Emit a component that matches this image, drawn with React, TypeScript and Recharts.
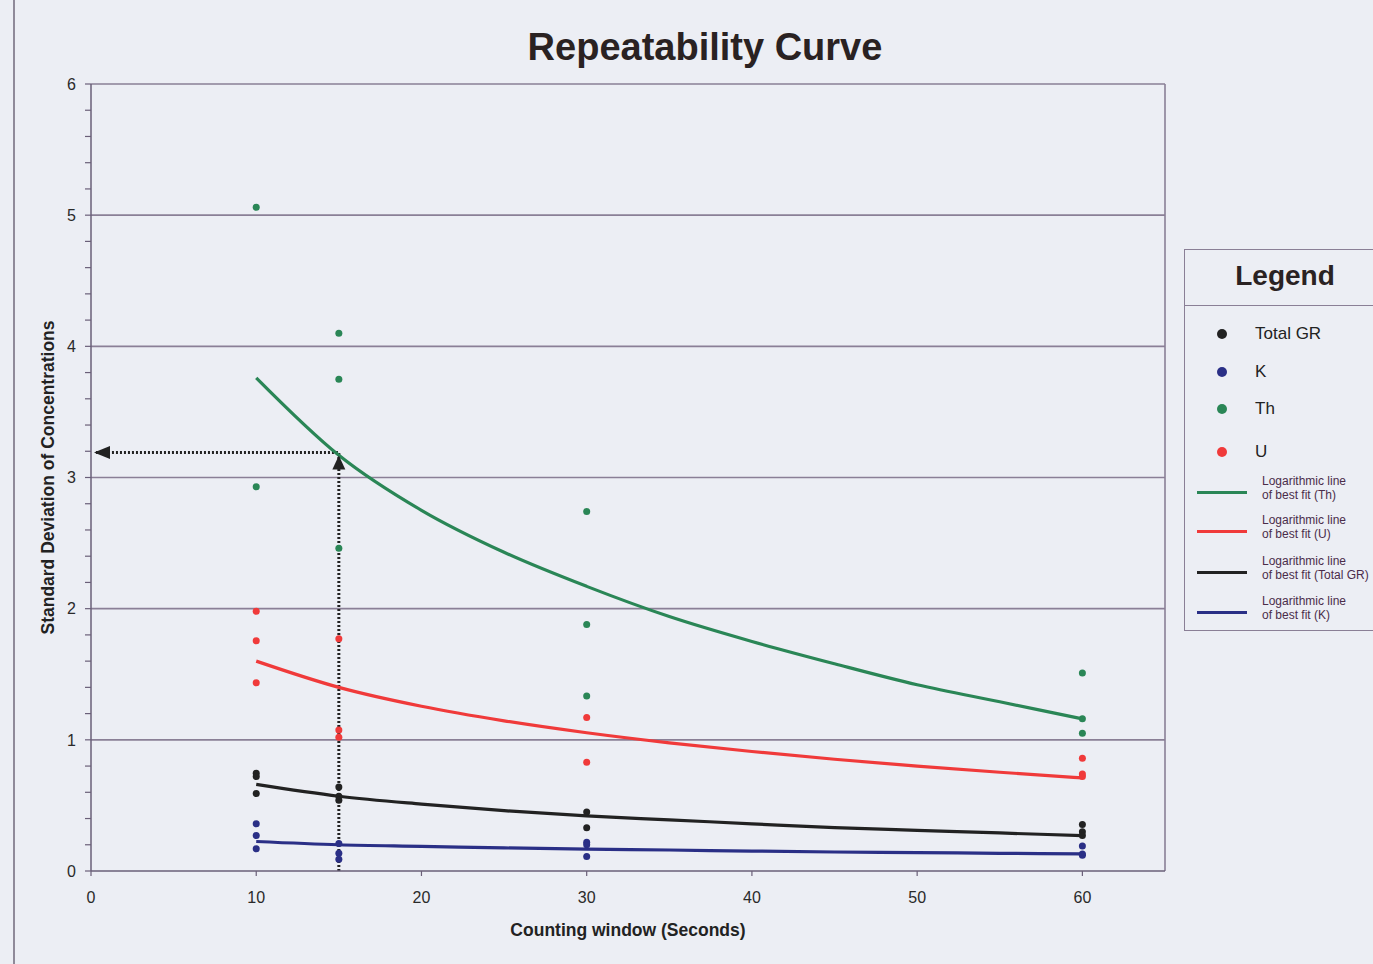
import React from 'react';
import {
  ComposedChart,
  XAxis,
  YAxis,
  Scatter,
  Line,
  ReferenceLine,
  ReferenceDot,
  Label,
} from 'recharts';

// ---- Data ----
const xTicks = [0, 10, 20, 30, 40, 50, 60];
const yTicks = [
  0, 0.2, 0.4, 0.6, 0.8, 1, 1.2, 1.4, 1.6, 1.8, 2, 2.2, 2.4, 2.6, 2.8, 3, 3.2, 3.4, 3.6, 3.8, 4,
  4.2, 4.4, 4.6, 4.8, 5, 5.2, 5.4, 5.6, 5.8, 6,
];
const yMajorLabels = [0, 1, 2, 3, 4, 5, 6];
const gridValues = [1, 2, 3, 4, 5, 6];

const thPoints = [
  { x: 10, y: 5.06 }, { x: 10, y: 2.93 },
  { x: 15, y: 4.1 }, { x: 15, y: 3.75 }, { x: 15, y: 2.46 },
  { x: 30, y: 2.74 }, { x: 30, y: 1.88 }, { x: 30, y: 1.335 },
  { x: 60, y: 1.51 }, { x: 60, y: 1.16 }, { x: 60, y: 1.05 },
];
const uPoints = [
  { x: 10, y: 1.98 }, { x: 10, y: 1.755 }, { x: 10, y: 1.435 },
  { x: 15, y: 1.77 }, { x: 15, y: 1.075 }, { x: 15, y: 1.02 },
  { x: 30, y: 1.17 }, { x: 30, y: 0.83 },
  { x: 60, y: 0.86 }, { x: 60, y: 0.74 }, { x: 60, y: 0.72 },
];
const grPoints = [
  { x: 10, y: 0.745 }, { x: 10, y: 0.72 }, { x: 10, y: 0.59 },
  { x: 15, y: 0.64 }, { x: 15, y: 0.57 }, { x: 15, y: 0.54 },
  { x: 30, y: 0.45 }, { x: 30, y: 0.33 },
  { x: 60, y: 0.355 }, { x: 60, y: 0.3 }, { x: 60, y: 0.27 },
];
const kPoints = [
  { x: 10, y: 0.36 }, { x: 10, y: 0.27 }, { x: 10, y: 0.17 },
  { x: 15, y: 0.21 }, { x: 15, y: 0.135 }, { x: 15, y: 0.09 },
  { x: 30, y: 0.22 }, { x: 30, y: 0.2 }, { x: 30, y: 0.11 },
  { x: 60, y: 0.19 }, { x: 60, y: 0.13 }, { x: 60, y: 0.12 },
];

// Logarithmic best-fit curves
const fitX = [10, 15, 20, 25, 30, 35, 40, 45, 50, 55, 60];
const thFit = [3.76, 3.17, 2.75, 2.43, 2.17, 1.94, 1.75, 1.58, 1.42, 1.29, 1.16];
const uFit = [1.6, 1.4, 1.256, 1.145, 1.054, 0.977, 0.911, 0.852, 0.8, 0.753, 0.71];
const grFit = [0.66, 0.57, 0.51, 0.46, 0.42, 0.39, 0.36, 0.33, 0.31, 0.29, 0.27];
const kFit = [0.225, 0.2, 0.188, 0.176, 0.167, 0.16, 0.152, 0.145, 0.14, 0.135, 0.13];

// Reading guide (dotted arrows)
const guideX = 15;
const guideY = 3.19;

const COLORS = {
  th: '#2a8656',
  u: '#f03a3a',
  gr: '#222222',
  k: '#2a2f86',
};

const GRID = '#8a7f96';
const AXIS = '#6a5f78';

const toSeries = (vals: number[]) => fitX.map((x, i) => ({ x, y: vals[i] }));

const dot = (color: string) => (props: any) => {
  const { cx, cy } = props;
  if (cx == null || cy == null) return <g />;
  return <circle cx={cx} cy={cy} r={3.5} fill={color} />;
};

const upArrow = (props: any) => {
  const { cx, cy } = props;
  return (
    <polygon
      points={`${cx},${cy + 3} ${cx - 6.5},${cy + 17} ${cx + 6.5},${cy + 17}`}
      fill="#222"
    />
  );
};

const leftArrow = (props: any) => {
  const { cx, cy } = props;
  return (
    <polygon
      points={`${cx + 3},${cy} ${cx + 19},${cy - 6.5} ${cx + 19},${cy + 6.5}`}
      fill="#222"
    />
  );
};

const dotLegend = [
  { name: 'Total GR', color: COLORS.gr, top: 84 },
  { name: 'K', color: COLORS.k, top: 122 },
  { name: 'Th', color: COLORS.th, top: 159 },
  { name: 'U', color: COLORS.u, top: 202 },
];
const lineLegend = [
  { name: 'of best fit (Th)', color: COLORS.th, top: 242 },
  { name: 'of best fit (U)', color: COLORS.u, top: 281 },
  { name: 'of best fit (Total GR)', color: COLORS.gr, top: 322 },
  { name: 'of best fit (K)', color: COLORS.k, top: 362 },
];

const LegendBox = () => (
  <div
    style={{
      position: 'absolute',
      left: 1184,
      top: 249,
      width: 189,
      height: 382,
      borderTop: `1.5px solid ${GRID}`,
      borderLeft: `1.5px solid ${GRID}`,
      borderBottom: `1.5px solid ${GRID}`,
      boxSizing: 'border-box',
      overflow: 'hidden',
    }}
  >
    <div
      style={{
        position: 'absolute',
        left: 0,
        top: 0,
        width: 200,
        height: 55,
        borderBottom: `1.5px solid ${GRID}`,
        textAlign: 'center',
        lineHeight: '52px',
        fontWeight: 'bold',
        fontSize: 28,
        color: '#2a2222',
      }}
    >
      Legend
    </div>
    {dotLegend.map((d) => (
      <React.Fragment key={d.name}>
        <div
          style={{
            position: 'absolute',
            left: 32,
            top: d.top - 5,
            width: 10,
            height: 10,
            borderRadius: 5,
            background: d.color,
          }}
        />
        <div
          style={{
            position: 'absolute',
            left: 70,
            top: d.top - 11,
            fontSize: 17,
            lineHeight: '22px',
            color: '#222',
          }}
        >
          {d.name}
        </div>
      </React.Fragment>
    ))}
    {lineLegend.map((d) => (
      <React.Fragment key={d.name}>
        <div
          style={{
            position: 'absolute',
            left: 12,
            top: d.top - 1.5,
            width: 50,
            height: 3.5,
            background: d.color,
          }}
        />
        <div
          style={{
            position: 'absolute',
            left: 77,
            top: d.top - 18,
            fontSize: 12,
            lineHeight: '14px',
            color: '#4a2c4a',
            whiteSpace: 'nowrap',
          }}
        >
          Logarithmic line
          <br />
          {d.name}
        </div>
      </React.Fragment>
    ))}
  </div>
);

export default function App() {
  return (
    <div
      style={{
        position: 'absolute',
        left: 0,
        top: 0,
        width: 1373,
        height: 964,
        background: '#eceef4',
        fontFamily: "'Liberation Sans', Arial, sans-serif",
        overflow: 'hidden',
      }}
    >
      <div
        style={{
          position: 'absolute',
          left: 13,
          top: 0,
          width: 1.5,
          height: 964,
          background: '#8f8a99',
        }}
      />
      <div
        style={{
          position: 'absolute',
          left: 405,
          top: 25,
          width: 600,
          textAlign: 'center',
          fontSize: 38,
          lineHeight: '44px',
          fontWeight: 'bold',
          color: '#2a2222',
        }}
      >
        Repeatability Curve
      </div>
      <ComposedChart
        width={1373}
        height={964}
        margin={{ top: 84, right: 208, bottom: 0, left: 0 }}
        style={{ position: 'absolute', left: 0, top: 0 }}
      >
        <XAxis
          type="number"
          dataKey="x"
          domain={[0, 65]}
          ticks={xTicks}
          interval={0}
          height={93}
          allowDataOverflow
          axisLine={{ stroke: AXIS, strokeWidth: 1.5 }}
          tickLine={{ stroke: AXIS, strokeWidth: 1.2 }}
          tickSize={5}
          tickMargin={16}
          tick={{ fill: '#2a2a2a', fontSize: 16 }}
        >
          <Label
            value="Counting window (Seconds)"
            position="center"
            dy={12}
            style={{ fontWeight: 'bold', fontSize: 17.5, fill: '#222' }}
          />
        </XAxis>
        <YAxis
          type="number"
          domain={[0, 6]}
          ticks={yTicks}
          interval={0}
          width={91}
          allowDataOverflow
          axisLine={{ stroke: AXIS, strokeWidth: 1.5 }}
          tickLine={{ stroke: AXIS, strokeWidth: 1.2 }}
          tickSize={6}
          tickMargin={9}
          tick={{ fill: '#2a2a2a', fontSize: 16 }}
          tickFormatter={(v: number) => (yMajorLabels.includes(v) ? String(v) : '')}
        >
          <Label
            value="Standard Deviation of Concentrations"
            angle={-90}
            position="center"
            dx={2}
            style={{ fontWeight: 'bold', fontSize: 17.5, fill: '#222', textAnchor: 'middle' }}
          />
        </YAxis>

        {gridValues.map((v) => (
          <ReferenceLine key={`g${v}`} y={v} stroke={GRID} strokeWidth={1.6} />
        ))}
        <ReferenceLine x={65} stroke={GRID} strokeWidth={1.6} />

        <ReferenceLine
          segment={[{ x: guideX, y: 0 }, { x: guideX, y: guideY }]}
          stroke="#222"
          strokeWidth={3}
          strokeDasharray="2 2"
        />
        <ReferenceLine
          segment={[{ x: 0.3, y: guideY }, { x: guideX, y: guideY }]}
          stroke="#222"
          strokeWidth={3}
          strokeDasharray="2 2"
        />
        <ReferenceDot x={guideX} y={guideY} shape={upArrow} />
        <ReferenceDot x={0} y={guideY} shape={leftArrow} />

        <Line
          data={toSeries(thFit)}
          dataKey="y"
          type="monotone"
          stroke={COLORS.th}
          strokeWidth={3.2}
          dot={false}
          isAnimationActive={false}
        />
        <Line
          data={toSeries(uFit)}
          dataKey="y"
          type="monotone"
          stroke={COLORS.u}
          strokeWidth={3.2}
          dot={false}
          isAnimationActive={false}
        />
        <Line
          data={toSeries(grFit)}
          dataKey="y"
          type="monotone"
          stroke={COLORS.gr}
          strokeWidth={3.2}
          dot={false}
          isAnimationActive={false}
        />
        <Line
          data={toSeries(kFit)}
          dataKey="y"
          type="monotone"
          stroke={COLORS.k}
          strokeWidth={3.2}
          dot={false}
          isAnimationActive={false}
        />

        <Scatter data={thPoints} dataKey="y" shape={dot(COLORS.th)} isAnimationActive={false} />
        <Scatter data={uPoints} dataKey="y" shape={dot(COLORS.u)} isAnimationActive={false} />
        <Scatter data={grPoints} dataKey="y" shape={dot(COLORS.gr)} isAnimationActive={false} />
        <Scatter data={kPoints} dataKey="y" shape={dot(COLORS.k)} isAnimationActive={false} />
      </ComposedChart>
      <LegendBox />
    </div>
  );
}
